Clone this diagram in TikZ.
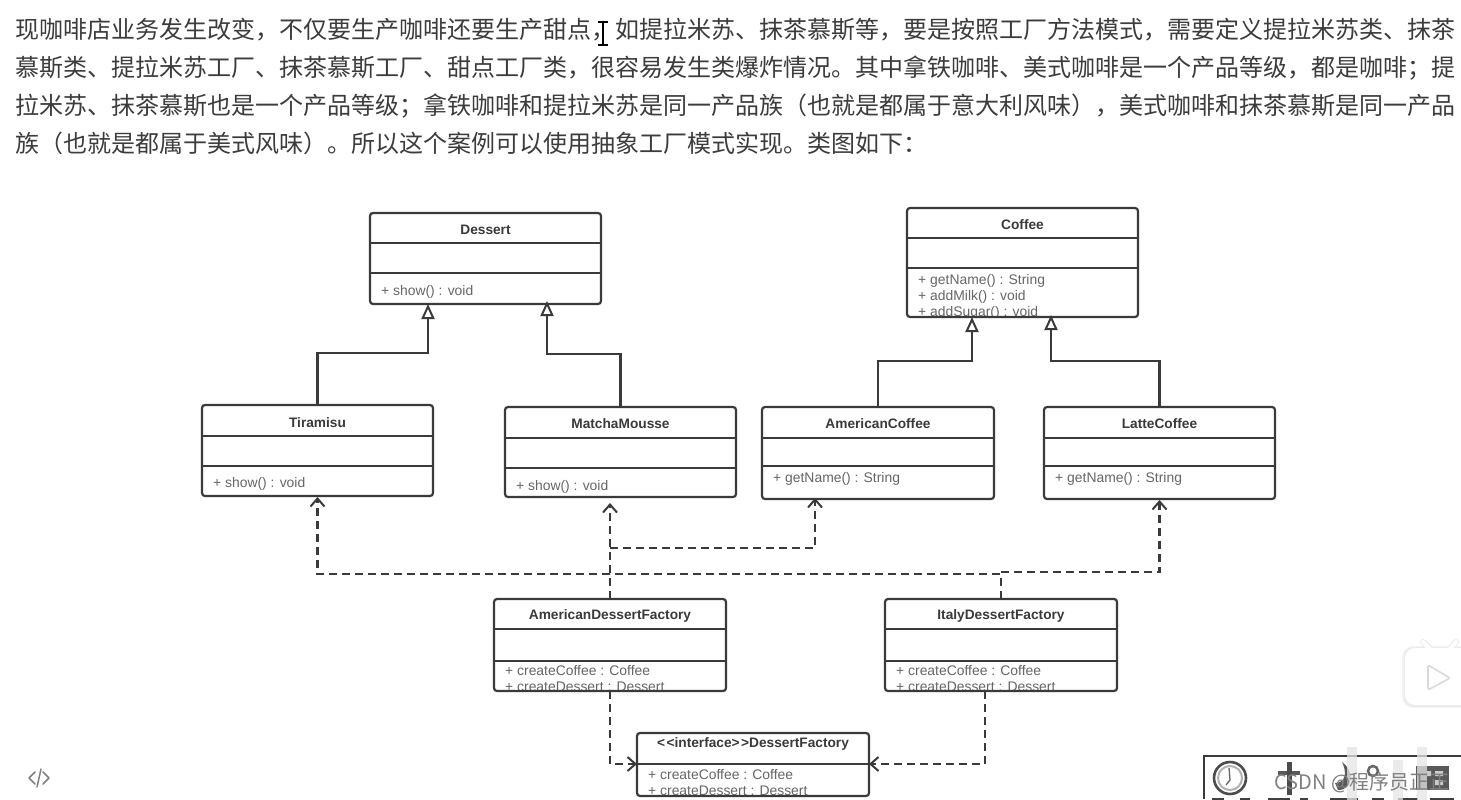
\documentclass[tikz,border=0pt]{standalone}
\usepackage{fontspec}
\setmainfont{Liberation Sans}
\newfontfamily\cjk{Noto Sans CJK SC}
\usetikzlibrary{arrows.meta,calc}
\definecolor{inkc}{HTML}{3A3A3A}
\definecolor{memberc}{HTML}{666666}
\definecolor{parac}{HTML}{3C3C3C}
\newcommand{\zc}{\char"FF0C\relax}
\newcommand{\zs}{\char"FF1B\relax}
\newcommand{\zl}{\char"FF08\relax}
\newcommand{\zr}{\char"FF09\relax}
\newcommand{\zk}{\char"FF1A\relax}
\tikzset{
  classbox/.style={draw=inkc,line width=2.2pt,rounded corners=3pt,inner sep=0pt,outer sep=0pt,fill=none},
  divider/.style={draw=inkc,line width=2pt},
  titletext/.style={font=\fontsize{13.7}{15}\selectfont\bfseries,text=inkc,inner sep=0pt},
  membertext/.style={font=\fontsize{13.9}{16}\selectfont,text=memberc,inner sep=0pt,align=left,anchor=north west},
  paraline/.style={font=\cjk\fontsize{24}{30}\selectfont,text=parac,inner sep=0pt,anchor=base west},
  inherit/.style={draw=inkc,line width=2.2pt,-{Triangle[open,length=15pt,width=13pt,line width=2pt,fill=white]}},
  realize/.style={draw=inkc,line width=2.2pt,dash pattern=on 8pt off 5pt,-{Straight Barb[length=8pt,width=14pt,line width=2pt]}},
  realizeline/.style={draw=inkc,line width=2.2pt,dash pattern=on 8pt off 5pt},
  iconline/.style={draw=#1,line width=1.5pt,line cap=round,line join=round}
}
% id, x, y, w, h, divider1, divider2, title, title y
\newcommand{\umlclass}[9]{%
  \begin{scope}
    \clip[rounded corners=3pt] (#2,#3) rectangle ++(#4,#5);
    \node[membertext] (#1m) at ({#2+11},{\membery+3}) {\memberlines};
  \end{scope}
  \node[classbox,minimum width=#4pt,minimum height=#5pt] (#1) at ({#2+#4/2},{#3+#5/2}) {};
  \draw[divider] (#2,#6) -- ++(#4,0);
  \draw[divider] (#2,#7) -- ++(#4,0);
  \node[titletext] (#1t) at ({#2+#4/2},{#9+0.5}) {#8};
}
\begin{document}
\begin{tikzpicture}[x=1pt,y=-1pt]
\useasboundingbox[fill=white] (0,0) rectangle (1461,800);
% paragraph
\node[paraline] (p1) at (15,38) {现咖啡店业务发生改变\zc 不仅要生产咖啡还要生产甜点\zc 如提拉米苏、抹茶慕斯等\zc 要是按照工厂方法模式\zc 需要定义提拉米苏类、抹茶};
\node[paraline] (p2) at (15,76) {慕斯类、提拉米苏工厂、抹茶慕斯工厂、甜点工厂类\zc 很容易发生类爆炸情况。其中拿铁咖啡、美式咖啡是一个产品等级\zc 都是咖啡\zs 提};
\node[paraline] (p3) at (15,114) {拉米苏、抹茶慕斯也是一个产品等级\zs 拿铁咖啡和提拉米苏是同一产品族\zl 也就是都属于意大利风味\zr\zc 美式咖啡和抹茶慕斯是同一产品};
\node[paraline] (p4) at (15,152) {族\zl 也就是都属于美式风味\zr 。所以这个案例可以使用抽象工厂模式实现。类图如下\zk};
% I-beam cursor
\draw[black,line width=1.4pt] (603,22) -- (603,45) (598,22) -- (608,22) (598,45) -- (608,45);
% classes
\def\membery{282}\def\memberlines{+ show() : void}
\umlclass{dessert}{370}{213}{231}{91}{243}{273}{Dessert}{229}
\def\membery{271}\def\memberlines{+ getName() : String\\+ addMilk() : void\\+ addSugar() : void}
\umlclass{coffee}{907}{208}{231}{109}{238}{268}{Coffee}{224}
\def\membery{474}\def\memberlines{+ show() : void}
\umlclass{tiramisu}{202}{405}{231}{91}{436}{466}{Tiramisu}{422}
\def\membery{477}\def\memberlines{+ show() : void}
\umlclass{matcha}{505}{407}{231}{90}{438}{468}{MatchaMousse}{423}
\def\membery{469}\def\memberlines{+ getName() : String}
\umlclass{american}{762}{407}{232}{92}{438}{466}{AmericanCoffee}{423}
\umlclass{latte}{1044}{407}{231}{92}{438}{466}{LatteCoffee}{423}
\def\membery{662}\def\memberlines{+ createCoffee : Coffee\\+ createDessert : Dessert}
\umlclass{amfactory}{494}{599}{232}{92}{629}{661}{AmericanDessertFactory}{615}
\umlclass{itfactory}{885}{599}{232}{92}{629}{661}{ItalyDessertFactory}{615}
\def\membery{766}
\umlclass{ifactory}{637}{733}{232}{63}{764}{764}{<\kern1.5pt<interface>\kern1.5pt>DessertFactory}{743}
% connection points
\coordinate (dessertA) at ($(dessert.south west)+(58,0)$);
\coordinate (dessertB) at ($(dessert.south west)+(177,-3)$);
\coordinate (coffeeA) at ($(coffee.south west)+(65,0)$);
\coordinate (coffeeB) at ($(coffee.south west)+(144,-2)$);
\coordinate (amUp) at ($(amfactory.north west)+(116,0)$);
\coordinate (itUp) at ($(itfactory.north west)+(116,0)$);
\coordinate (amDown) at ($(amfactory.south west)+(116,0)$);
\coordinate (itDown) at ($(itfactory.south west)+(100,0)$);
\coordinate (matchaIn) at ($(matcha.south west)+(105,6)$);
\coordinate (amerIn) at ($(american.south west)+(53,-1)$);
\coordinate (tirIn) at ($(tiramisu.south)+(0,1)$);
\coordinate (latIn) at ($(latte.south)+(0,1)$);
\coordinate (ifL) at ($(ifactory.north west)+(0,31)$);
\coordinate (ifR) at ($(ifactory.north east)+(0,31)$);
% inheritance
\draw[inherit] (tiramisu.north) -- ++(0,-52) -| (dessertA);
\draw[inherit] (matcha.north) -- ++(0,-53) -| (dessertB);
\draw[inherit] (american.north) -- ++(0,-46) -| (coffeeA);
\draw[inherit] (latte.north) -- ++(0,-46) -| (coffeeB);
% realization
\draw[realize] (amUp) -- (matchaIn);
\draw[realize] ($(amUp)+(0,-51)$) -| (amerIn);
\draw[realize] ($(amUp)+(0,-25)$) -| (tirIn);
\draw[realizeline] (itUp) -- ++(0,-25) -- ($(amUp)+(0,-25)$);
\draw[realize] (itUp) ++(0,-27) -| (latIn);
\draw[realize] (amDown) |- (ifL);
\draw[realize] (itDown) |- (ifR);
% code icon
\draw[iconline=gray] (35,772) -- (29,778) -- (35,784) (43,772) -- (49,778) -- (43,784);
\draw[iconline=gray] (41,769) -- (37,787);
% video icon
\fill[black!4,rounded corners=11pt] (1402,646) rectangle (1478,708);
\fill[black!8,rounded corners=10pt] (1403.5,647) rectangle (1476,707);
\draw[line width=6pt,black!8,line cap=round] (1423,642) -- (1431,650) (1456,642) -- (1449,650);
\draw[line width=4pt,white,line cap=round] (1423,642) -- (1431,650) (1456,642) -- (1449,650);
\fill[white,rounded corners=10pt] (1405,648) rectangle (1475,705);
\draw[black!15,line width=1.6pt,fill=white,line join=round,rounded corners=1.5pt] (1428,665) -- (1450,678) -- (1428,690) -- cycle;
% bottom right image fragment
\draw[inkc,line width=1.5pt] (1204,799) -- (1204,756) -- (1461,756);
\draw[black!70,line width=2.6pt] (1230,778) circle (16);
\draw[black!30,line width=2pt] (1230,778) circle (12);
\draw[black!60,line width=1.3pt] (1229,768) -- (1230,780) -- (1226,785);
\fill[black!65] (1278,771) rectangle (1300,775);
\fill[black!70] (1287,762) rectangle (1292,795);
\fill[black!65] (1335,783) .. controls (1346,783) and (1347,772) .. (1342,762) .. controls (1354,770) and (1354,790) .. (1338,790) -- cycle;
\draw[black!60,line width=2.5pt] (1373,771) circle (5);
\fill[black!65] (1416,766) rectangle (1449,790);
\fill[black!20] (1427,771) rectangle (1431,776) (1435,771) rectangle (1443,776) (1435,780) rectangle (1443,785);
\foreach \fx/\fw in {1212/12,1240/10,1268/22,1300/8,1330/28,1372/12,1398/20,1430/24}{\fill[black!75] (\fx,798) rectangle ++(\fw,2);}
\foreach \xx/\yy in {1347/747,1393/760,1417/747}{\fill[black!10,opacity=.75] (\xx,\yy) rectangle (\xx+10,800);}
\node[font=\cjk\fontsize{20}{22}\selectfont,text=black!50,inner sep=0pt,anchor=base west] (wm) at (1274,789) {CSDN @程序员正正};
\end{tikzpicture}
\end{document}
